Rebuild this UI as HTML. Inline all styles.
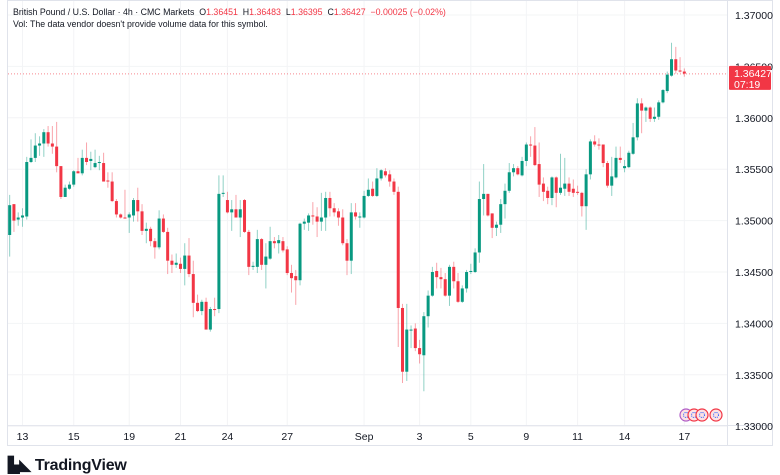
<!DOCTYPE html>
<html><head><meta charset="utf-8"><style>
body{margin:0;background:#fff;width:780px;height:470px;overflow:hidden;font-family:"Liberation Sans",sans-serif}
svg{position:absolute;left:0;top:0}
</style></head><body>
<svg id="c" width="780" height="470"></svg>
<script>
const priceTicks=[1.37,1.365,1.36,1.355,1.35,1.345,1.34,1.335,1.33];
const dateLabels=["13","15","19","21","24","27","Sep","3","5","9","11","14","17"];
const dateIndex=[3,15,28,40,51,65,83,96,108,121,133,144,158];
const opens=[1.3486,1.3516,1.3501,1.3503,1.3504,1.3557,1.3561,1.3573,1.3575,1.3586,1.3575,1.3572,1.3553,1.3523,1.3531,1.3535,1.3548,1.3546,1.3561,1.3558,1.3552,1.3556,1.3556,1.3539,1.3538,1.3519,1.3506,1.3503,1.3503,1.3505,1.3520,1.3509,1.3490,1.3492,1.3480,1.3474,1.3502,1.3489,1.3461,1.3457,1.3458,1.3453,1.3466,1.3448,1.3420,1.3412,1.3421,1.3394,1.3414,1.3414,1.3526,1.3520,1.3508,1.3511,1.3503,1.3520,1.3489,1.3455,1.3455,1.3482,1.3457,1.3463,1.3480,1.3478,1.3480,1.3472,1.3449,1.3446,1.3442,1.3497,1.3498,1.3505,1.3504,1.3499,1.3503,1.3522,1.3512,1.3509,1.3503,1.3478,1.3461,1.3508,1.3503,1.3503,1.3524,1.3531,1.3524,1.3541,1.3548,1.3545,1.3538,1.3528,1.3415,1.3353,1.3393,1.3395,1.3376,1.3369,1.3407,1.3427,1.3451,1.3445,1.3443,1.3427,1.3455,1.3441,1.3421,1.3434,1.3450,1.3450,1.3469,1.3521,1.3526,1.3507,1.3493,1.3496,1.3516,1.3529,1.3547,1.3551,1.3544,1.3558,1.3574,1.3573,1.3555,1.3536,1.3529,1.3522,1.3542,1.3527,1.3531,1.3536,1.3531,1.3528,1.3527,1.3514,1.3545,1.3577,1.3574,1.3574,1.3556,1.3534,1.3542,1.3561,1.3551,1.3552,1.3565,1.3581,1.3614,1.3607,1.3610,1.3599,1.3601,1.3615,1.3626,1.3641,1.3657,1.3646,1.3645];
const highs=[1.3525,1.3516,1.3508,1.3512,1.3562,1.3579,1.3585,1.3582,1.3589,1.3592,1.3592,1.3596,1.3553,1.3535,1.3538,1.3549,1.3561,1.3569,1.3576,1.3567,1.3569,1.3563,1.3566,1.3547,1.3547,1.3521,1.3507,1.3530,1.3508,1.3522,1.3532,1.3516,1.3498,1.3494,1.3483,1.3510,1.3506,1.3493,1.3467,1.3468,1.3464,1.3478,1.3483,1.3461,1.3428,1.3423,1.3425,1.3416,1.3425,1.3544,1.3544,1.3528,1.3520,1.3525,1.3520,1.3521,1.3491,1.3460,1.3491,1.3483,1.3478,1.3494,1.3484,1.3486,1.3484,1.3475,1.3457,1.3452,1.3498,1.3502,1.3507,1.3518,1.3513,1.3527,1.3528,1.3528,1.3517,1.3512,1.3511,1.3482,1.3517,1.3517,1.3508,1.3529,1.3541,1.3538,1.3551,1.3550,1.3551,1.3549,1.3541,1.3533,1.3419,1.3419,1.3398,1.3400,1.3384,1.3411,1.3432,1.3455,1.3459,1.3454,1.3449,1.3457,1.3460,1.3449,1.3437,1.3452,1.3458,1.3473,1.3538,1.3555,1.3526,1.3507,1.3499,1.3521,1.3536,1.3556,1.3555,1.3553,1.3562,1.3576,1.3582,1.3591,1.3576,1.3542,1.3533,1.3543,1.3543,1.3565,1.3561,1.3542,1.3540,1.3534,1.3528,1.3550,1.3579,1.3583,1.3580,1.3574,1.3558,1.3562,1.3572,1.3572,1.3559,1.3568,1.3595,1.3619,1.3619,1.3611,1.3611,1.3610,1.3617,1.3628,1.3645,1.3673,1.3669,1.3659,1.3648];
const lows=[1.3465,1.3489,1.3495,1.3494,1.3501,1.3556,1.3557,1.3563,1.3562,1.3572,1.3565,1.3547,1.3521,1.3523,1.3530,1.3533,1.3546,1.3544,1.3554,1.3549,1.3551,1.3549,1.3538,1.3532,1.3518,1.3503,1.3502,1.3502,1.3488,1.3499,1.3499,1.3486,1.3478,1.3475,1.3463,1.3472,1.3488,1.3448,1.3449,1.3454,1.3449,1.3437,1.3445,1.3406,1.3411,1.3408,1.3394,1.3392,1.3407,1.3410,1.3523,1.3507,1.3490,1.3503,1.3484,1.3488,1.3447,1.3452,1.3449,1.3452,1.3434,1.3462,1.3473,1.3468,1.3469,1.3447,1.3430,1.3418,1.3437,1.3491,1.3490,1.3496,1.3484,1.3490,1.3490,1.3504,1.3504,1.3495,1.3476,1.3447,1.3448,1.3501,1.3493,1.3502,1.3523,1.3523,1.3523,1.3539,1.3542,1.3533,1.3525,1.3377,1.3342,1.3344,1.3376,1.3373,1.3361,1.3334,1.3396,1.3426,1.3434,1.3434,1.3426,1.3417,1.3434,1.3420,1.3420,1.3430,1.3448,1.3449,1.3459,1.3505,1.3504,1.3483,1.3485,1.3488,1.3502,1.3527,1.3543,1.3544,1.3543,1.3553,1.3562,1.3553,1.3523,1.3519,1.3516,1.3515,1.3513,1.3525,1.3524,1.3524,1.3523,1.3525,1.3504,1.3491,1.3540,1.3572,1.3569,1.3552,1.3532,1.3524,1.3541,1.3556,1.3547,1.3551,1.3564,1.3578,1.3585,1.3596,1.3596,1.3596,1.3598,1.3614,1.3624,1.3640,1.3643,1.3644,1.3640];
const closes=[1.3515,1.3500,1.3503,1.3505,1.3557,1.3561,1.3573,1.3575,1.3586,1.3575,1.3572,1.3553,1.3523,1.3532,1.3535,1.3548,1.3546,1.3561,1.3557,1.3560,1.3556,1.3557,1.3538,1.3538,1.3519,1.3506,1.3503,1.3502,1.3506,1.3520,1.3509,1.3490,1.3492,1.3480,1.3474,1.3502,1.3489,1.3461,1.3457,1.3459,1.3453,1.3466,1.3448,1.3420,1.3412,1.3421,1.3394,1.3414,1.3413,1.3526,1.3527,1.3508,1.3511,1.3503,1.3511,1.3489,1.3455,1.3456,1.3482,1.3457,1.3465,1.3480,1.3478,1.3481,1.3471,1.3449,1.3444,1.3442,1.3497,1.3499,1.3505,1.3504,1.3499,1.3503,1.3522,1.3512,1.3508,1.3503,1.3478,1.3461,1.3508,1.3504,1.3504,1.3524,1.3530,1.3524,1.3541,1.3549,1.3544,1.3538,1.3528,1.3415,1.3353,1.3394,1.3394,1.3376,1.3370,1.3407,1.3427,1.3450,1.3445,1.3443,1.3427,1.3455,1.3441,1.3421,1.3434,1.3450,1.3451,1.3469,1.3521,1.3526,1.3505,1.3493,1.3496,1.3516,1.3529,1.3547,1.3551,1.3545,1.3558,1.3574,1.3573,1.3554,1.3535,1.3528,1.3522,1.3542,1.3527,1.3532,1.3536,1.3528,1.3527,1.3527,1.3514,1.3545,1.3577,1.3574,1.3573,1.3556,1.3534,1.3543,1.3561,1.3559,1.3553,1.3566,1.3581,1.3614,1.3607,1.3610,1.3599,1.3601,1.3615,1.3627,1.3642,1.3657,1.3646,1.3645,1.3643];
const lastPrice=1.36427;

const NS="http://www.w3.org/2000/svg";
const svg=document.getElementById('c');
const yOf=p=>15+(1.37-p)/0.005*51.4;
const xOf=i=>9.67+i*4.27;
function mk(tag,attrs,parent){const e=document.createElementNS(NS,tag);for(const k in attrs)e.setAttribute(k,attrs[k]);(parent||svg).appendChild(e);return e;}

const fr=mk('rect',{x:7.5,y:0.5,width:765,height:445,fill:'none',stroke:'#e0e3eb'});


mk('line',{x1:7,x2:773,y1:425.5,y2:425.5,stroke:'#e0e3eb'});
mk('line',{x1:727.5,x2:727.5,y1:0,y2:446,stroke:'#e0e3eb'});

priceTicks.forEach(p=>{
  const y=yOf(p);
  const g=mk('line',{x1:8,x2:727,y1:y,y2:y,stroke:'#f3f4f6'});
  
  
  const t=mk('text',{x:735,y:y+4,'font-size':'10.5',fill:'#131722'});
  t.textContent=p.toFixed(5);
  
  
});
dateLabels.forEach((d,k)=>{
  const x=xOf(dateIndex[k]);
  const g=mk('line',{x1:x,x2:x,y1:1,y2:425,stroke:'#f3f4f6'});
  
  
  const t=mk('text',{x:x,y:440,'font-size':'10.5',fill:'#131722','text-anchor':'middle'});
  t.textContent=d;
  
  
});

const pl=mk('line',{x1:8,x2:727,y1:yOf(lastPrice),y2:yOf(lastPrice),stroke:'#f23645','stroke-dasharray':'1 2','stroke-opacity':'0.6'});



opens.forEach((o,i)=>{
  const c=closes[i],h=highs[i],l=lows[i];
  const up=c>=o;
  const col=up?'#089981':'#f23645';
  const x=xOf(i);
  const g=mk('g',{});
  
  
  mk('line',{x1:x,x2:x,y1:yOf(h),y2:yOf(l),stroke:col,'stroke-opacity':'0.45','stroke-width':'1'},g);
  const top=yOf(Math.max(o,c)),bot=yOf(Math.min(o,c));
  mk('rect',{x:x-1.5,y:top,width:3,height:Math.max(1,bot-top),fill:col},g);
});

const lb=mk('rect',{x:729,y:yOf(lastPrice)-8,width:42,height:24,fill:'#f23645',rx:1});


const lt=mk('text',{x:734,y:yOf(lastPrice)+3,'font-size':'10.5',fill:'#fff'});lt.textContent='1.36427';
const lt2=mk('text',{x:734,y:yOf(lastPrice)+14,'font-size':'10.5',fill:'#fff'});lt2.textContent='07:19';

[686,694,702,716].forEach((x,k)=>{
  const e=mk('circle',{cx:x,cy:415,r:6,fill:'#fde2e4',stroke:k==0?'#b05cc7':'#f23645','stroke-width':'1.2'});
  
  
  mk('circle',{cx:x,cy:415,r:2.5,fill:'none',stroke:'#2962ff','stroke-width':'1','stroke-dasharray':'1 1'});
});
</script>
<div style="position:absolute;left:13px;top:7px;font-size:8.8px;color:#131722;white-space:nowrap">British Pound / U.S. Dollar · 4h · CMC Markets &nbsp;O<span style="color:#f23645">1.36451</span> &nbsp;H<span style="color:#f23645">1.36483</span> &nbsp;L<span style="color:#f23645">1.36395</span> &nbsp;C<span style="color:#f23645">1.36427 &nbsp;−0.00025 (−0.02%)</span></div>
<div style="position:absolute;left:13px;top:19px;font-size:8.8px;color:#131722;white-space:nowrap">Vol: The data vendor doesn't provide volume data for this symbol.</div>
<div style="position:absolute;left:8px;top:456px;font-size:16px;font-weight:bold;color:#131722;white-space:nowrap;letter-spacing:-0.2px"><span style="font-size:15px">▙◣</span> TradingView</div>
</body></html>
